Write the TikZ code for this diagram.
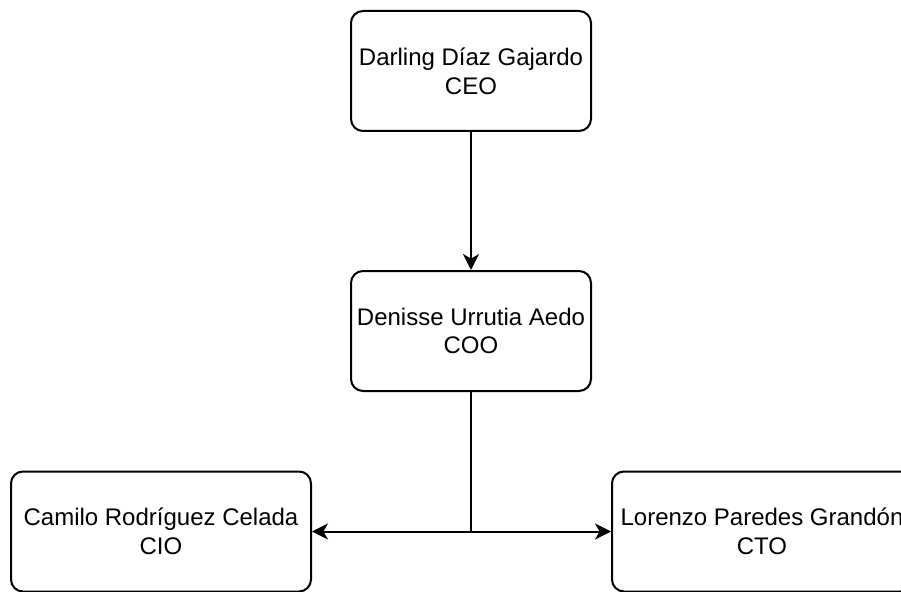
\documentclass[tikz,border=0pt]{standalone}
\usepackage{fontspec}
\setmainfont{Liberation Sans}
\usetikzlibrary{arrows.meta}

\begin{document}
\begin{tikzpicture}[x=0.75pt, y=-0.75pt, line width=1.5pt,
        role/.style={draw, rectangle, rounded corners=9pt, minimum width=180pt, minimum height=90pt,
            align=center, inner sep=0pt, font=\fontsize{18}{21.6}\selectfont},
        wide/.style={role, minimum width=225pt},
        link/.style={-{Stealth[length=12pt, width=12pt, inset=3.5pt]}}]
        \useasboundingbox (0, 0) rectangle (901, 592);
        \clip (0, 0) rectangle (901, 592);

        \node[role] (ceo) at (471, 71) {Darling Díaz Gajardo\\CEO};
        \node[role] (coo) at (471, 331) {Denisse Urrutia Aedo\\COO};
        \node[wide] (cio) at (161, 531.5) {Camilo Rodríguez Celada\\CIO};
        \node[wide] (cto) at (762, 531.5) {Lorenzo Paredes Grandón\\CTO};

        \coordinate (split) at (471, 531.5);

        \draw[link] (ceo) -- (coo);
        \draw (coo) -- (split);
        \draw[link] (split) -- (cio);
        \draw[link] (split) -- (cto);
    \end{tikzpicture}
\end{document}
